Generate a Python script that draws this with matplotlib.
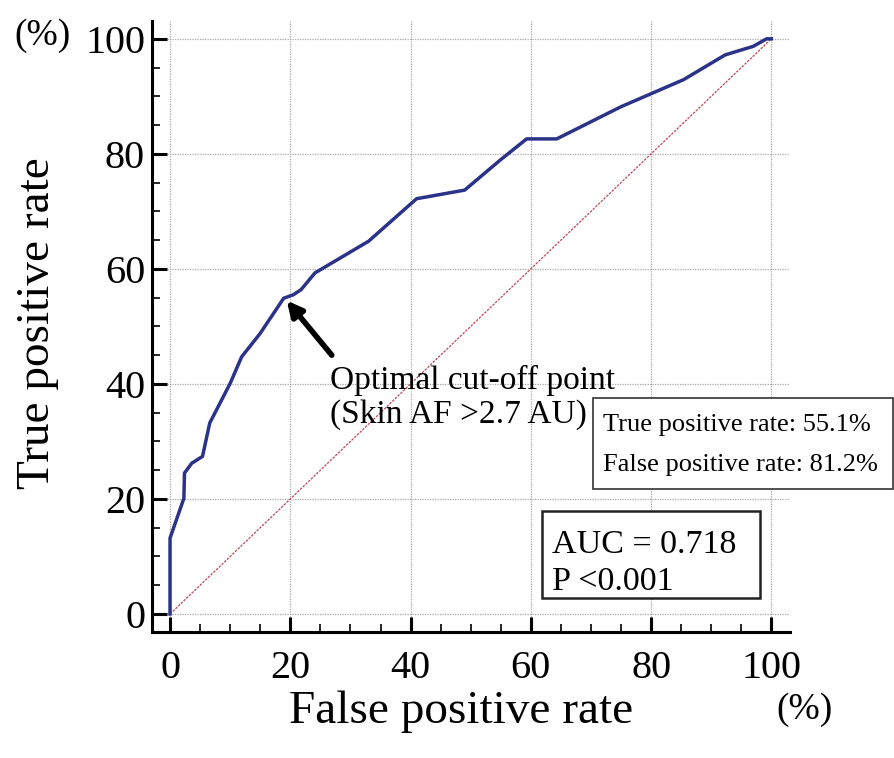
import matplotlib
matplotlib.use("Agg")
import matplotlib.pyplot as plt
from matplotlib.patches import Rectangle
from matplotlib.ticker import MultipleLocator

plt.rcParams['font.family'] = ['Liberation Serif', 'DejaVu Serif']

# ROC curve (false positive rate %, true positive rate %)
fpr = [0, 0, 2.3, 2.4, 3.6, 5.4, 6.6, 10.0, 11.9, 15.0, 18.9, 20.5, 21.8, 24.1,
       33.0, 41.0, 49.0, 55.0, 59.3, 64.3, 75.0, 85.4, 92.3, 97.0, 99.2, 100]
tpr = [0, 13.2, 20.1, 24.5, 26.2, 27.4, 33.2, 40.1, 44.7, 48.8, 54.9, 55.5, 56.4, 59.3,
       64.8, 72.2, 73.7, 79.0, 82.6, 82.6, 88.2, 92.9, 97.2, 98.7, 100, 100]
ref_line = [0, 100]
ticks = [0, 20, 40, 60, 80, 100]
cut_point = (19.4, 54.5)
cut_label = ["Optimal cut-off point", "(Skin AF >2.7 AU)"]
rate_lines = ["True positive rate: 55.1%", "False positive rate: 81.2%"]
stat_lines = ["AUC = 0.718", "P <0.001"]

W, H = 894, 758
fig = plt.figure(figsize=(W / 100, H / 100), dpi=100)
L, R, B, T = 152, 790, 632, 21
ax = fig.add_axes([L / W, 1 - B / H, (R - L) / W, (B - T) / H])

ax.plot(ref_line, ref_line, color='#c0485a', lw=0.9, ls=(0, (2, 1)), zorder=2)
ax.plot(fpr, tpr, color='#2b3389', lw=2.5, zorder=3)

ax.set_xlim(-3.0, 103.1)
ax.set_ylim(-3.13, 103.1)
ax.set_xticks(ticks)
ax.set_yticks(ticks)
ax.xaxis.set_minor_locator(MultipleLocator(5))
ax.yaxis.set_minor_locator(MultipleLocator(5))
ax.tick_params(which='major', direction='in', length=11, width=2.2, labelsize=29, color='black')
ax.tick_params(which='minor', direction='in', length=5.5, width=1.2, color='black')
ax.tick_params(axis='x', which='major', pad=13)
ax.tick_params(axis='y', which='major', pad=5)
for s in ['top', 'right']:
    ax.spines[s].set_visible(False)
for s in ['left', 'bottom']:
    ax.spines[s].set_linewidth(2.2)
ax.grid(True, which='major', color='#a8a8a8', ls=(0, (1, 1)), lw=0.9)
ax.set_axisbelow(True)

ax.set_xlabel("False positive rate", fontsize=34)
ax.xaxis.set_label_coords((461 - L) / (R - L), (B - 712) / (B - T))
ax.xaxis.label.set_va('center')
ax.set_ylabel("True positive rate", fontsize=34)
ax.yaxis.set_label_coords((38 - L) / (R - L), (B - 323) / (B - T))
ax.yaxis.label.set_va('center')

fig.text(42 / W, 1 - 36 / H, "(%)", fontsize=27, ha='center', va='center')
fig.text(805 / W, 1 - 710 / H, "(%)", fontsize=27, ha='center', va='center')

ax.annotate("", xy=cut_point, xytext=(26.9, 45.0),
            arrowprops=dict(arrowstyle='-|>,head_length=0.9,head_width=0.45',
                            color='black', lw=4.0, shrinkA=0, shrinkB=0))
fig.text(330 / W, 1 - 380 / H, cut_label[0], fontsize=24, ha='left', va='center')
fig.text(330 / W, 1 - 415 / H, cut_label[1], fontsize=24, ha='left', va='center')

fig.patches.append(Rectangle((593 / W, 1 - 489 / H), (893 - 593) / W, (489 - 398) / H,
                             transform=fig.transFigure, fill=True, facecolor='white',
                             edgecolor='#333333', lw=1.2))
fig.text(603 / W, 1 - 425 / H, rate_lines[0], fontsize=19, ha='left', va='center')
fig.text(603 / W, 1 - 465 / H, rate_lines[1], fontsize=19, ha='left', va='center')

fig.patches.append(Rectangle((542 / W, 1 - 598 / H), (760 - 542) / W, (598 - 511) / H,
                             transform=fig.transFigure, fill=True, facecolor='white',
                             edgecolor='#222222', lw=1.8))
fig.text(552 / W, 1 - 545 / H, stat_lines[0], fontsize=24.5, ha='left', va='center')
fig.text(552 / W, 1 - 582 / H, stat_lines[1], fontsize=24.5, ha='left', va='center')

fig.savefig("out.png", dpi=100)
